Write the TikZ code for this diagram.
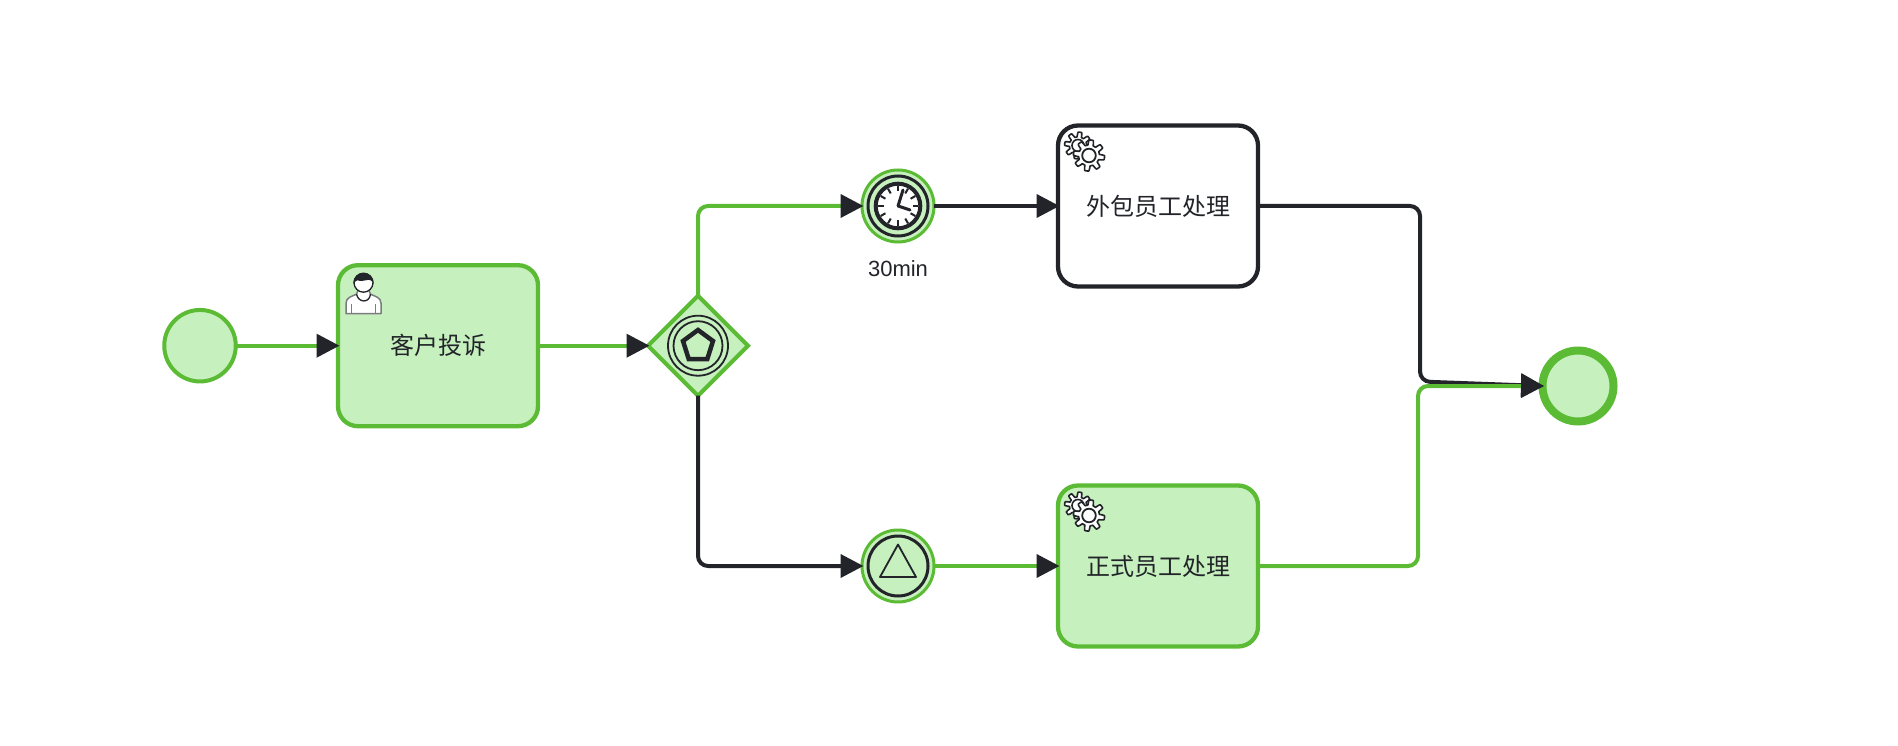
\documentclass[tikz,border=0pt]{standalone}
\usepackage{fontspec}
\setmainfont{Liberation Sans}
\newfontfamily\cjk{Noto Sans CJK SC}
\usetikzlibrary{arrows.meta,shapes.geometric}
\definecolor{bgreen}{HTML}{5BBB35}
\definecolor{lgreen}{HTML}{C6F0BD}
\definecolor{bblack}{HTML}{22242A}
\tikzset{
  every node/.style={inner sep=0pt,outer sep=0pt,text=bblack},
  tip/.style={-{Triangle[length=23pt,width=23pt,color=bblack,fill=bblack]},shorten >=-1.5pt},
  flowg/.style={draw=bgreen,line width=4pt,rounded corners=10pt,tip},
  flowk/.style={draw=bblack,line width=4pt,rounded corners=10pt,tip},
  taskbox/.style={draw,line width=4.3pt,rounded corners=20pt,minimum width=200pt,minimum height=161pt,font=\cjk\fontsize{24}{28}\selectfont},
  doneshape/.style={draw=bgreen,fill=lgreen},
  openshape/.style={draw=bblack,fill=white},
  ring/.style={draw=bblack,line width=3pt},
  gearline/.style={draw=bblack,line width=1.6pt,line join=round},
}
\newcommand{\gearshape}[4]{% cx cy radius teeth-amp
  \draw[gearline,fill=white] plot[domain=0:360,samples=193] ({#1+(#3+#4*max(-1,min(1,2.2*sin(8*\x+22))))*cos(\x)},{#2+(#3+#4*max(-1,min(1,2.2*sin(8*\x+22))))*sin(\x)}) -- cycle;
}
\newcommand{\gearpair}[2]{%
  \gearshape{#1-11}{#2-10}{11}{2.4}
  \draw[gearline] (#1-11,#2-10) circle (6);
  \gearshape{#1}{#2}{13}{2.6}
  \draw[gearline,line width=1.8pt,fill=white] (#1,#2) circle (6.8);
}
\begin{document}
\begin{tikzpicture}[x=1pt,y=-1pt]
\useasboundingbox (0,0) rectangle (1898,746);
% nodes
\node[circle,doneshape,line width=4pt,minimum size=71.5pt] (start) at (200,345.7) {};
\node[taskbox,doneshape,text=bblack] (complain) at (438,345.7) {客户投诉};
\node[diamond,aspect=1,doneshape,line width=4pt,minimum width=100pt,minimum height=100pt] (gate) at (698,345.7) {};
\node[circle,doneshape,line width=3pt,minimum size=72pt] (timer) at (898,206) {};
\node[circle,doneshape,line width=3pt,minimum size=72pt] (signal) at (898,566) {};
\node[taskbox,openshape] (outsrc) at (1158,206) {外包员工处理};
\node[taskbox,doneshape] (staff) at (1158,566) {正式员工处理};
\node[circle,doneshape,line width=8pt,minimum size=71pt] (finish) at (1578,386) {};
\node[font=\fontsize{22}{26}\selectfont] (timerlabel) at (898,268.5) {30min};
% merge bends
\coordinate (kbend1) at (1420,206);
\coordinate (kbend2) at (1420,381.5);
\coordinate (gbend1) at (1418,566);
\coordinate (gbend2) at (1418,386);
\coordinate (gupper) at (698,206);
\coordinate (glower) at (698,566);
% connectors
\draw[flowg] (start.east) -- (complain.west);
\draw[flowg] (complain.east) -- (gate.west);
\draw[flowg] (gate.north) -- (gupper) -- (timer.west);
\draw[flowk] (gate.south) -- (glower) -- (signal.west);
\draw[flowk] (timer.east) -- (outsrc.west);
\draw[flowg] (signal.east) -- (staff.west);
\draw[flowk] (outsrc.east) -- (kbend1) -- (kbend2) -- (finish.west);
\draw[flowg] (staff.east) -- (gbend1) -- (gbend2) -- (finish.west);
% user icon
\begin{scope}[shift={(363.5,1.2)}]
  \draw[draw=bblack!60,line width=1.5pt,fill=white,line join=round]
    (-17.5,312.5) -- (-17.5,302) .. controls (-17.5,296) and (-11,295) .. (-7,293) -- (-5,288) -- (5,288) -- (7,293) .. controls (11,295) and (17.5,296) .. (17.5,302) -- (17.5,312.5) -- cycle;
  \draw[draw=bblack!60,line width=1.5pt] (-12,303) -- (-12,312.5) (12,303) -- (12,312.5);
  \draw[bblack,line width=1.3pt,fill=white] (0,281.5) ellipse (9.5 and 9.5);
  \fill[bblack] (-10,283) .. controls (-11,268) and (11,268) .. (10,283) .. controls (9,279) and (6,278) .. (3,279) .. controls (0,280) and (-4,280) .. (-6,279) .. controls (-8,279.5) and (-9,281) .. (-10,283) -- cycle;
  \draw[bblack,line width=1.3pt] (-7,293) .. controls (-5,302) and (6,302) .. (7,293);
\end{scope}
% gateway marker
\draw[bblack,line width=1.8pt] (698,345.7) circle (30);
\draw[bblack,line width=1.8pt] (698,345.7) circle (24.5);
\draw[bblack,line width=4.5pt,line join=miter]
  (698,330) -- (713,341) -- (707.3,359) -- (688.7,359) -- (683,341) -- cycle;
% timer marker
\draw[ring] (898,206) circle (30);
\draw[bblack,line width=4pt,fill=white] (898,206) circle (22.3);
\foreach \a in {0,30,...,330}{
  \draw[bblack,line width=2pt] ({898+20*cos(\a)},{206+20*sin(\a)}) -- ({898+14.5*cos(\a)},{206+14.5*sin(\a)});
}
\draw[bblack,line width=3pt,line cap=round,line join=round,fill=none] (903,190) -- (898,206) -- (910,210);
% signal marker
\draw[ring] (898,566) circle (30);
\draw[bblack,line width=1.8pt,line join=round] (898,544.5) -- (916,577) -- (880,577) -- cycle;
% service gears
\gearpair{1089}{155.5}
\gearpair{1089}{515.5}
\end{tikzpicture}
\end{document}
